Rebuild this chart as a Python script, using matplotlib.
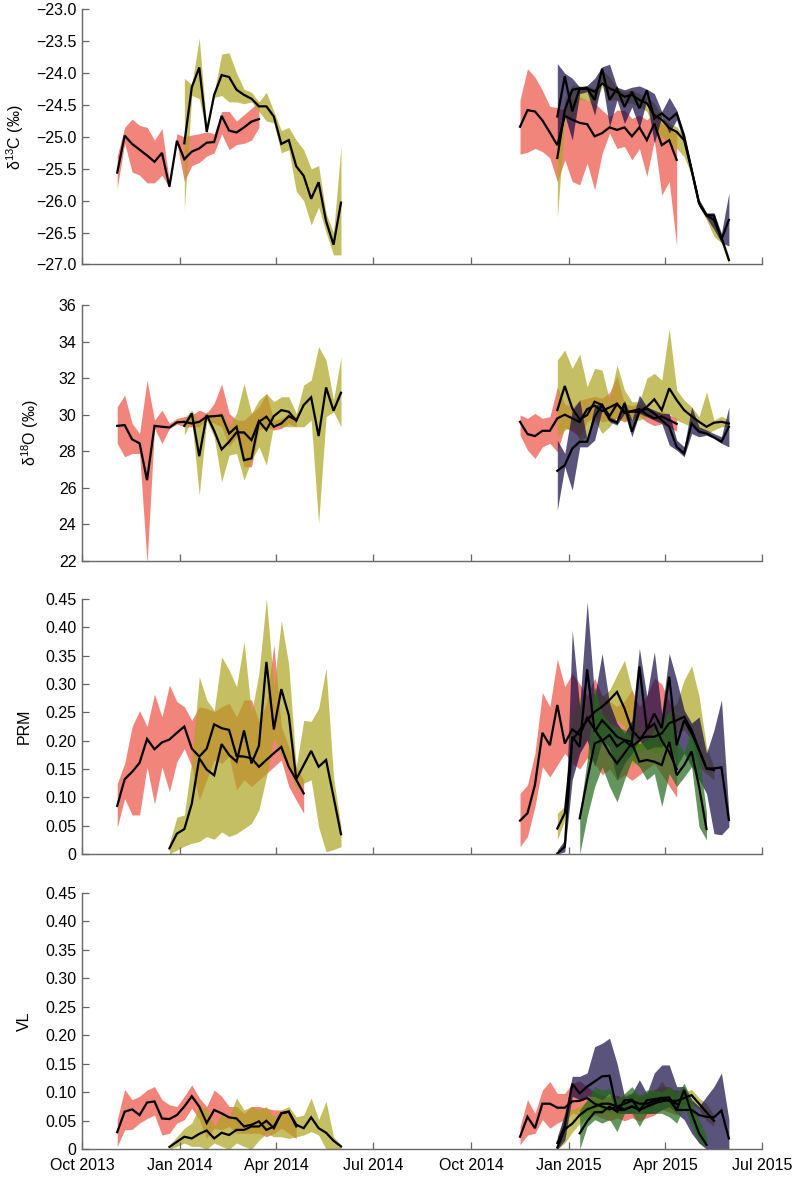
import matplotlib
matplotlib.use("Agg")
import matplotlib.pyplot as plt
import matplotlib.dates as mdates
import numpy as np
import pandas as pd

plt.rcParams["font.family"] = ["Liberation Sans", "DejaVu Sans"]
plt.rcParams["mathtext.fontset"] = "custom"
plt.rcParams["mathtext.rm"] = "Liberation Sans"
plt.rcParams["mathtext.default"] = "rm"

# ── Weekly sampling: first sample date of each series ────────────────────────
START_RED13 = "2013-11-03"
START_OLV13_ISO = "2014-01-05"   # olive, isotope panels
START_OLV13_PRM = "2013-12-22"   # olive, PRM / VL panels
START_RED14 = "2014-11-16"
START_PUR14 = "2014-12-21"       # olive + purple 2014-15
START_GRN14 = "2015-01-11"

# ── δ13C ─────────────────────────────────────────────────────────────────────
c13_red13 = [-25.56, -24.98, -25.11, -25.20, -25.29, -25.39, -25.25, -25.78, -25.06, -25.35,
             -25.23, -25.18, -25.09, -25.08, -24.67, -24.90, -24.93, -24.85, -24.76, -24.72]
c13_red13_hi = [-25.30, -24.85, -24.72, -24.82, -24.85, -25.05, -24.87, -25.70, -24.95, -25.00,
                -24.97, -24.95, -24.92, -24.95, -24.60, -24.60, -24.75, -24.65, -24.55, -24.45]
c13_red13_lo = [-25.80, -25.10, -25.55, -25.60, -25.72, -25.72, -25.60, -25.80, -25.10, -25.70,
                -25.45, -25.40, -25.30, -25.25, -24.95, -25.20, -25.12, -25.10, -25.05, -24.85]

c13_olv13 = [-25.10, -24.22, -23.91, -24.92, -24.34, -24.03, -24.06, -24.26, -24.34, -24.40, -24.52,
             -24.52, -24.68, -25.11, -25.05, -25.46, -25.61, -25.97, -25.71, -26.32, -26.69, -26.03]
c13_olv13_hi = [-24.08, -24.18, -23.45, -24.85, -24.30, -23.70, -23.68, -24.00, -24.25, -24.30, -24.45,
                -24.30, -24.60, -24.90, -24.85, -25.05, -25.20, -25.50, -25.45, -26.20, -26.50, -25.15]
c13_olv13_lo = [-26.15, -24.35, -24.40, -24.95, -24.38, -24.35, -24.45, -24.45, -24.48, -24.45, -24.60,
                -24.75, -24.78, -25.25, -25.20, -25.85, -26.00, -26.38, -26.10, -26.50, -26.85, -26.85]

c13_red14 = [-24.84, -24.58, -24.60, -24.74, -24.93, -25.13, -24.67, -24.73, -24.78, -24.80, -24.99,
             -24.94, -24.85, -24.89, -24.85, -24.99, -24.85, -25.05, -24.79, -25.13, -25.05, -25.36]
c13_red14_hi = [-24.42, -23.93, -24.06, -24.27, -24.52, -24.54, -24.58, -24.42, -24.37, -24.42, -24.47,
                -24.58, -24.68, -24.58, -24.58, -24.71, -24.66, -24.73, -24.63, -24.79, -24.84, -24.94]
c13_red14_lo = [-25.27, -25.24, -25.18, -25.23, -25.33, -25.70, -25.36, -25.70, -25.75, -25.41, -25.83,
                -25.26, -24.94, -25.18, -25.15, -25.36, -25.18, -25.62, -25.05, -25.91, -25.70, -26.71]

c13_olv14 = [-25.33, -24.58, -24.26, -24.24, -24.24, -24.29, -24.16, -24.24, -24.29, -24.37, -24.34, -24.42,
             -24.47, -24.66, -24.73, -24.86, -24.92, -25.05, -25.52, -26.04, -26.23, -26.30, -26.58, -26.93]
c13_olv14_hi = [-25.15, -24.42, -24.19, -24.20, -24.20, -24.24, -23.95, -24.06, -24.24, -24.29, -24.27, -24.32,
                -24.37, -24.47, -24.68, -24.79, -24.84, -24.99, -25.46, -25.98, -26.19, -26.24, -26.53, -26.87]
c13_olv14_lo = [-26.27, -24.73, -24.71, -24.42, -24.42, -24.53, -24.21, -24.42, -24.42, -24.47, -24.47, -24.53,
                -24.60, -24.89, -24.99, -25.10, -25.18, -25.31, -25.60, -26.09, -26.30, -26.56, -26.66, -27.00]

c13_pur14 = [-24.68, -24.05, -24.60, -24.24, -24.24, -24.42, -23.93, -24.42, -24.24, -24.53, -24.29, -24.55,
             -24.27, -24.71, -24.63, -24.73, -24.63, -24.99, -25.52, -26.04, -26.23, -26.23, -26.61, -26.30]
c13_pur14_hi = [-23.85, -24.00, -24.08, -24.22, -24.19, -24.08, -23.90, -23.86, -24.22, -24.26, -24.22, -24.20,
                -24.25, -24.32, -24.60, -24.38, -24.58, -24.94, -25.46, -25.98, -26.19, -26.19, -26.51, -25.88]
c13_pur14_lo = [-25.10, -24.66, -25.05, -24.32, -24.29, -24.66, -24.11, -24.84, -24.42, -24.79, -24.53, -24.86,
                -24.42, -25.10, -24.68, -24.94, -24.73, -25.10, -25.57, -26.09, -26.27, -26.45, -26.66, -26.71]

# ── δ18O ─────────────────────────────────────────────────────────────────────
o18_red13 = [29.39, 29.43, 28.65, 28.43, 26.42, 29.39, 29.34, 29.30, 29.58, 29.61, 29.52, 29.61, 29.89,
             29.92, 29.96, 28.97, 29.34, 27.51, 27.61, 29.61, 29.89, 29.34, 29.52, 29.92, 29.70]
o18_red13_hi = [30.43, 31.07, 29.52, 28.97, 31.89, 29.70, 30.25, 29.52, 29.80, 29.89, 29.98, 30.25, 30.07,
                30.62, 31.68, 30.07, 29.70, 29.70, 30.07, 30.43, 31.16, 29.70, 29.80, 30.07, 29.89]
o18_red13_lo = [28.43, 27.70, 27.88, 27.88, 21.90, 29.25, 28.43, 29.25, 29.49, 29.34, 29.34, 29.34, 29.70,
                29.52, 29.34, 28.24, 28.79, 27.15, 27.15, 29.16, 29.34, 29.16, 29.25, 29.52, 29.34]

o18_olv13 = [29.39, 30.07, 27.73, 29.98, 29.12, 28.10, 28.52, 29.03, 29.03, 28.61, 29.65,
             29.16, 29.92, 30.25, 30.16, 29.67, 30.53, 30.95, 28.83, 31.49, 30.22, 31.20]
o18_olv13_hi = [29.80, 30.25, 29.52, 30.16, 29.89, 30.16, 29.34, 30.07, 31.71, 30.07, 30.80,
                31.16, 30.71, 30.98, 30.98, 30.07, 31.62, 31.89, 33.72, 32.99, 30.80, 33.17]
o18_olv13_lo = [28.88, 29.70, 25.60, 29.70, 28.79, 26.33, 27.79, 27.88, 26.42, 27.51, 28.24,
                27.24, 29.52, 29.34, 29.34, 29.34, 29.34, 29.70, 24.05, 29.89, 30.16, 29.34]

o18_red14 = [29.61, 28.94, 28.83, 29.12, 29.12, 29.80, 30.0, 29.8, 29.6, 30.3, 30.5,
             30.2, 30.4, 30.6, 30.1, 30.2, 30.3, 30.0, 29.8, 29.9, 29.7, 29.5]
o18_red14_hi = [29.98, 29.80, 30.07, 29.80, 29.89, 31.53, 30.6, 30.4, 30.8, 30.9, 31.0,
                30.9, 31.2, 32.1, 30.6, 30.5, 30.6, 30.3, 30.1, 30.2, 30.0, 29.8]
o18_red14_lo = [28.88, 28.06, 27.61, 28.24, 28.43, 27.97, 29.3, 29.1, 28.8, 29.6, 29.9,
                29.6, 29.7, 29.8, 29.6, 29.8, 29.9, 29.6, 29.4, 29.5, 29.3, 29.1]

o18_olv14 = [30.25, 31.57, 30.34, 29.74, 29.98, 30.71, 30.53, 29.92, 30.58, 30.16, 30.16, 30.16,
             30.43, 30.84, 30.25, 31.44, 30.80, 30.25, 29.92, 29.61, 29.34, 29.56, 29.61, 29.52]
o18_olv14_hi = [32.99, 33.54, 32.53, 33.32, 31.53, 32.53, 32.44, 30.80, 32.72, 31.35, 30.71, 30.71,
                31.99, 32.26, 31.89, 34.72, 31.35, 30.80, 30.43, 29.89, 31.26, 29.70, 29.92, 29.70]
o18_olv14_lo = [28.79, 29.16, 29.34, 28.61, 28.79, 29.70, 28.97, 29.34, 29.89, 29.70, 29.70, 29.70,
                29.89, 30.07, 29.89, 30.07, 29.70, 29.52, 29.34, 28.97, 28.97, 29.16, 29.34, 29.34]

o18_pur14 = [26.93, 27.24, 28.15, 28.52, 28.52, 29.89, 30.53, 29.74, 29.56, 30.62, 29.07, 30.16,
             30.34, 30.07, 29.70, 29.34, 28.24, 27.88, 29.52, 29.07, 28.97, 28.76, 28.52, 29.34]
o18_pur14_hi = [28.61, 27.88, 30.25, 30.80, 28.61, 30.53, 30.62, 29.89, 29.70, 30.80, 29.70, 31.07,
                30.43, 30.25, 30.07, 30.07, 28.61, 28.24, 30.43, 29.34, 29.16, 28.97, 28.79, 30.43]
o18_pur14_lo = [24.78, 27.15, 25.87, 28.24, 28.24, 28.61, 30.25, 29.61, 29.43, 30.07, 28.79, 30.07,
                29.89, 29.70, 29.52, 28.34, 28.06, 27.70, 28.97, 28.79, 28.88, 28.70, 28.43, 28.24]

# ── PRM ──────────────────────────────────────────────────────────────────────
prm_red13 = [0.085, 0.132, 0.145, 0.161, 0.203, 0.185, 0.197, 0.202, 0.214, 0.225, 0.186, 0.172, 0.186,
             0.229, 0.222, 0.219, 0.173, 0.172, 0.169, 0.154, 0.166, 0.178, 0.189, 0.154, 0.131, 0.107]
prm_red13_hi = [0.124, 0.160, 0.225, 0.253, 0.225, 0.282, 0.242, 0.298, 0.269, 0.260, 0.236, 0.260, 0.257,
                0.251, 0.260, 0.266, 0.242, 0.272, 0.272, 0.234, 0.266, 0.369, 0.225, 0.189, 0.154, 0.131]
prm_red13_lo = [0.047, 0.098, 0.069, 0.069, 0.154, 0.088, 0.154, 0.110, 0.163, 0.186, 0.154, 0.095, 0.131,
                0.166, 0.160, 0.172, 0.113, 0.131, 0.119, 0.131, 0.142, 0.154, 0.166, 0.119, 0.095, 0.072]

prm_olv13 = [0.010, 0.036, 0.044, 0.089, 0.169, 0.149, 0.139, 0.194, 0.175, 0.163, 0.218, 0.160,
             0.191, 0.339, 0.220, 0.291, 0.245, 0.132, 0.157, 0.182, 0.154, 0.166, 0.101, 0.035]
prm_olv13_hi = [0.019, 0.065, 0.069, 0.166, 0.313, 0.272, 0.253, 0.348, 0.325, 0.295, 0.375, 0.248,
                0.319, 0.451, 0.295, 0.412, 0.334, 0.154, 0.236, 0.234, 0.257, 0.328, 0.136, 0.048]
prm_olv13_lo = [0.000, 0.007, 0.014, 0.019, 0.022, 0.031, 0.026, 0.039, 0.031, 0.036, 0.045, 0.054,
                0.078, 0.136, 0.205, 0.172, 0.160, 0.113, 0.125, 0.131, 0.048, 0.004, 0.008, 0.013]

prm_red14 = [0.059, 0.072, 0.122, 0.214, 0.192, 0.263, 0.195, 0.22, 0.21, 0.24, 0.22,
             0.20, 0.21, 0.19, 0.20, 0.19, 0.20, 0.22, 0.23, 0.20, 0.18, 0.15]
prm_red14_hi = [0.107, 0.122, 0.178, 0.285, 0.260, 0.344, 0.295, 0.319, 0.30, 0.28, 0.31,
                0.28, 0.27, 0.26, 0.27, 0.29, 0.26, 0.28, 0.31, 0.30, 0.27, 0.24]
prm_red14_lo = [0.013, 0.031, 0.084, 0.154, 0.136, 0.157, 0.178, 0.16, 0.15, 0.17, 0.16,
                0.14, 0.15, 0.13, 0.14, 0.13, 0.14, 0.15, 0.16, 0.14, 0.12, 0.10]

prm_olv14 = [0.045, 0.072, 0.201, 0.219, 0.236, 0.251, 0.260, 0.272, 0.286, 0.257, 0.219,
             0.204, 0.207, 0.207, 0.213, 0.231, 0.236, 0.242, 0.219, 0.184, 0.151, 0.148]
prm_olv14_hi = [0.072, 0.084, 0.248, 0.278, 0.260, 0.289, 0.278, 0.289, 0.316, 0.342, 0.289,
                0.225, 0.219, 0.236, 0.248, 0.254, 0.266, 0.307, 0.332, 0.278, 0.189, 0.154]
prm_olv14_lo = [0.025, 0.060, 0.154, 0.189, 0.201, 0.236, 0.201, 0.231, 0.236, 0.225, 0.154,
                0.178, 0.189, 0.178, 0.178, 0.207, 0.213, 0.219, 0.201, 0.154, 0.142, 0.131]

prm_pur14 = [0.001, 0.013, 0.207, 0.189, 0.326, 0.216, 0.236, 0.222, 0.207, 0.201, 0.198, 0.331,
             0.220, 0.248, 0.222, 0.313, 0.192, 0.236, 0.213, 0.184, 0.151, 0.151, 0.153, 0.060]
prm_pur14_hi = [0.007, 0.025, 0.395, 0.260, 0.445, 0.278, 0.354, 0.266, 0.231, 0.213, 0.236, 0.363,
                0.278, 0.357, 0.248, 0.354, 0.307, 0.254, 0.231, 0.242, 0.178, 0.219, 0.272, 0.072]
prm_pur14_lo = [0.000, 0.004, 0.131, 0.178, 0.201, 0.154, 0.201, 0.189, 0.131, 0.160, 0.178, 0.201,
                0.184, 0.189, 0.189, 0.201, 0.154, 0.178, 0.154, 0.131, 0.107, 0.036, 0.034, 0.048]

prm_grn14 = [0.063, 0.131, 0.195, 0.201, 0.178, 0.160, 0.178, 0.196, 0.163,
             0.166, 0.163, 0.157, 0.198, 0.139, 0.157, 0.181, 0.119, 0.044]
prm_grn14_hi = [0.072, 0.166, 0.295, 0.248, 0.231, 0.225, 0.219, 0.207, 0.195,
                0.201, 0.219, 0.225, 0.254, 0.201, 0.178, 0.225, 0.178, 0.072]
prm_grn14_lo = [0.000, 0.066, 0.119, 0.154, 0.119, 0.092, 0.131, 0.166, 0.154,
                0.131, 0.142, 0.084, 0.142, 0.119, 0.136, 0.154, 0.048, 0.025]

# ── VL ───────────────────────────────────────────────────────────────────────
vl_red13 = [0.030, 0.066, 0.070, 0.060, 0.082, 0.084, 0.054, 0.053, 0.060, 0.075, 0.093, 0.075, 0.046,
            0.069, 0.063, 0.056, 0.054, 0.040, 0.043, 0.049, 0.034, 0.040, 0.063, 0.066, 0.040]
vl_red13_hi = [0.052, 0.105, 0.087, 0.093, 0.104, 0.110, 0.087, 0.078, 0.075, 0.093, 0.113, 0.090, 0.075,
               0.104, 0.093, 0.075, 0.075, 0.063, 0.075, 0.075, 0.072, 0.069, 0.069, 0.069, 0.046]
vl_red13_lo = [0.005, 0.034, 0.035, 0.046, 0.054, 0.060, 0.025, 0.028, 0.046, 0.052, 0.072, 0.052, 0.019,
               0.037, 0.034, 0.040, 0.028, 0.028, 0.028, 0.028, 0.022, 0.028, 0.037, 0.028, 0.019]

vl_olv13 = [0.004, 0.013, 0.022, 0.019, 0.027, 0.033, 0.019, 0.029, 0.025, 0.034, 0.034, 0.040,
            0.040, 0.050, 0.037, 0.063, 0.066, 0.043, 0.037, 0.056, 0.037, 0.029, 0.015, 0.005]
vl_olv13_hi = [0.008, 0.022, 0.037, 0.046, 0.075, 0.072, 0.040, 0.063, 0.057, 0.090, 0.069, 0.075,
               0.069, 0.075, 0.057, 0.069, 0.075, 0.057, 0.060, 0.090, 0.052, 0.084, 0.022, 0.008]
vl_olv13_lo = [0.000, 0.005, 0.011, 0.005, 0.005, 0.000, 0.011, 0.005, 0.000, 0.011, 0.005, 0.000,
               0.016, 0.028, 0.022, 0.022, 0.019, 0.022, 0.025, 0.031, 0.025, 0.000, 0.000, 0.000]

vl_red14 = [0.022, 0.057, 0.037, 0.080, 0.080, 0.073, 0.073, 0.084, 0.085, 0.090, 0.080,
            0.075, 0.070, 0.075, 0.070, 0.075, 0.070, 0.075, 0.080, 0.090, 0.085, 0.080]
vl_red14_hi = [0.040, 0.087, 0.063, 0.104, 0.119, 0.098, 0.098, 0.116, 0.120, 0.110, 0.100,
               0.095, 0.090, 0.095, 0.090, 0.095, 0.090, 0.100, 0.105, 0.110, 0.110, 0.100]
vl_red14_lo = [0.008, 0.025, 0.028, 0.052, 0.037, 0.046, 0.052, 0.063, 0.060, 0.065, 0.060,
               0.055, 0.050, 0.055, 0.050, 0.055, 0.050, 0.055, 0.060, 0.070, 0.065, 0.060]

vl_olv14 = [0.003, 0.035, 0.045, 0.060, 0.070, 0.075, 0.080, 0.080, 0.075, 0.080, 0.085,
            0.080, 0.080, 0.085, 0.090, 0.085, 0.085, 0.090, 0.095, 0.080, 0.065, 0.050]
vl_olv14_hi = [0.010, 0.069, 0.070, 0.075, 0.085, 0.090, 0.090, 0.095, 0.090, 0.095, 0.100,
               0.095, 0.095, 0.100, 0.120, 0.100, 0.105, 0.100, 0.105, 0.090, 0.080, 0.060]
vl_olv14_lo = [0.000, 0.011, 0.030, 0.045, 0.055, 0.060, 0.065, 0.065, 0.060, 0.065, 0.070,
               0.065, 0.065, 0.070, 0.075, 0.070, 0.070, 0.075, 0.080, 0.070, 0.050, 0.040]

vl_pur14 = [0.011, 0.040, 0.115, 0.098, 0.110, 0.119, 0.128, 0.129, 0.069, 0.069, 0.075, 0.069,
            0.075, 0.081, 0.084, 0.087, 0.069, 0.069, 0.069, 0.060, 0.057, 0.056, 0.068, 0.019]
vl_pur14_hi = [0.022, 0.063, 0.128, 0.128, 0.134, 0.180, 0.186, 0.195, 0.151, 0.093, 0.098, 0.122,
               0.098, 0.134, 0.148, 0.148, 0.110, 0.110, 0.087, 0.075, 0.093, 0.110, 0.134, 0.052]
vl_pur14_lo = [0.000, 0.016, 0.093, 0.087, 0.093, 0.093, 0.087, 0.098, 0.063, 0.063, 0.063, 0.063,
               0.063, 0.063, 0.069, 0.075, 0.063, 0.052, 0.028, 0.011, 0.000, 0.000, 0.000, 0.000]

vl_grn14 = [0.028, 0.049, 0.065, 0.065, 0.075, 0.066, 0.086, 0.087, 0.068,
            0.086, 0.088, 0.090, 0.091, 0.069, 0.104, 0.063, 0.028, 0.008]
vl_grn14_hi = [0.069, 0.087, 0.110, 0.104, 0.107, 0.087, 0.098, 0.110, 0.093,
               0.104, 0.104, 0.101, 0.110, 0.098, 0.116, 0.087, 0.052, 0.022]
vl_grn14_lo = [0.000, 0.040, 0.052, 0.046, 0.052, 0.031, 0.063, 0.063, 0.040,
               0.063, 0.063, 0.063, 0.057, 0.046, 0.075, 0.040, 0.011, 0.005]

# ── Styles ───────────────────────────────────────────────────────────────────
RED, OLIVE, PURPLE, GREEN = "#EC5145", "#ACA51F", "#140A45", "#22691A"
ALPHA = 0.7
SPINE = "#666666"


def weeks(start, n):
    return pd.date_range(start, periods=n, freq="7D")


def band(ax, start, mean, lo, hi, color):
    t = weeks(start, len(mean))
    ax.fill_between(t, lo, hi, color=color, alpha=ALPHA, lw=0)
    ax.plot(t, mean, color="black", lw=1.6, solid_joinstyle="miter")


def ticklabel(v, fmt):
    if abs(v) < 1e-9:
        return "0"
    return fmt.format(v).replace("-", "\u2212")


panels = [
    dict(ylabel="δ$^{13}$C (‰)", ylim=(-27, -23), ticks=np.arange(-27, -22.9, 0.5),
         fmt="{:.1f}", labx=-0.082,
         series=[(START_RED13, c13_red13, c13_red13_lo, c13_red13_hi, RED),
                 (START_OLV13_ISO, c13_olv13, c13_olv13_lo, c13_olv13_hi, OLIVE),
                 (START_RED14, c13_red14, c13_red14_lo, c13_red14_hi, RED),
                 (START_PUR14, c13_olv14, c13_olv14_lo, c13_olv14_hi, OLIVE),
                 (START_PUR14, c13_pur14, c13_pur14_lo, c13_pur14_hi, PURPLE)]),
    dict(ylabel="δ$^{18}$O (‰)", ylim=(22, 36), ticks=np.arange(22, 37, 2),
         fmt="{:.0f}", labx=-0.060,
         series=[(START_RED13, o18_red13, o18_red13_lo, o18_red13_hi, RED),
                 (START_OLV13_ISO, o18_olv13, o18_olv13_lo, o18_olv13_hi, OLIVE),
                 (START_RED14, o18_red14, o18_red14_lo, o18_red14_hi, RED),
                 (START_PUR14, o18_olv14, o18_olv14_lo, o18_olv14_hi, OLIVE),
                 (START_PUR14, o18_pur14, o18_pur14_lo, o18_pur14_hi, PURPLE)]),
    dict(ylabel="PRM", ylim=(0, 0.45), ticks=np.arange(0, 0.451, 0.05),
         fmt="{:.2f}", labx=-0.0735,
         series=[(START_RED13, prm_red13, prm_red13_lo, prm_red13_hi, RED),
                 (START_OLV13_PRM, prm_olv13, prm_olv13_lo, prm_olv13_hi, OLIVE),
                 (START_RED14, prm_red14, prm_red14_lo, prm_red14_hi, RED),
                 (START_PUR14, prm_olv14, prm_olv14_lo, prm_olv14_hi, OLIVE),
                 (START_PUR14, prm_pur14, prm_pur14_lo, prm_pur14_hi, PURPLE),
                 (START_GRN14, prm_grn14, prm_grn14_lo, prm_grn14_hi, GREEN)]),
    dict(ylabel="VL", ylim=(0, 0.45), ticks=np.arange(0, 0.451, 0.05),
         fmt="{:.2f}", labx=-0.0735,
         series=[(START_RED13, vl_red13, vl_red13_lo, vl_red13_hi, RED),
                 (START_OLV13_PRM, vl_olv13, vl_olv13_lo, vl_olv13_hi, OLIVE),
                 (START_RED14, vl_red14, vl_red14_lo, vl_red14_hi, RED),
                 (START_PUR14, vl_olv14, vl_olv14_lo, vl_olv14_hi, OLIVE),
                 (START_PUR14, vl_pur14, vl_pur14_lo, vl_pur14_hi, PURPLE),
                 (START_GRN14, vl_grn14, vl_grn14_lo, vl_grn14_hi, GREEN)]),
]

# axes rectangles (figure fraction): left, bottom, width, height
rects = [(0.1028, 0.7755, 0.852, 0.2165),
         (0.1028, 0.5238, 0.852, 0.2173),
         (0.1028, 0.2750, 0.852, 0.2165),
         (0.1028, 0.0244, 0.852, 0.2176)]

fig = plt.figure(figsize=(7.98, 11.78), dpi=100)
xlim = (pd.Timestamp("2013-10-01"), pd.Timestamp("2015-07-01"))

for i, (p, r) in enumerate(zip(panels, rects)):
    ax = fig.add_axes(r)
    for s in p["series"]:
        band(ax, *s)
    ax.set_xlim(*xlim)
    ax.set_ylim(*p["ylim"])
    ax.set_yticks(p["ticks"])
    ax.set_yticklabels([ticklabel(v, p["fmt"]) for v in p["ticks"]])
    ax.xaxis.set_major_locator(mdates.MonthLocator(bymonth=[1, 4, 7, 10]))
    ax.xaxis.set_major_formatter(mdates.DateFormatter("%b %Y"))
    if i < 3:
        ax.tick_params(axis="x", labelbottom=False)
    for side in ("top", "right"):
        ax.spines[side].set_visible(False)
    for side in ("left", "bottom"):
        ax.spines[side].set_color(SPINE)
        ax.spines[side].set_linewidth(1.0)
    ax.tick_params(direction="in", length=5, width=0.9, color=SPINE,
                   labelsize=11.5, labelcolor="black")
    ax.tick_params(axis="x", pad=6)
    ax.tick_params(axis="y", pad=4)
    ax.set_ylabel(p["ylabel"], fontsize=11.5)
    ax.yaxis.set_label_coords(p["labx"], 0.5)

fig.savefig("out.png", dpi=100)
